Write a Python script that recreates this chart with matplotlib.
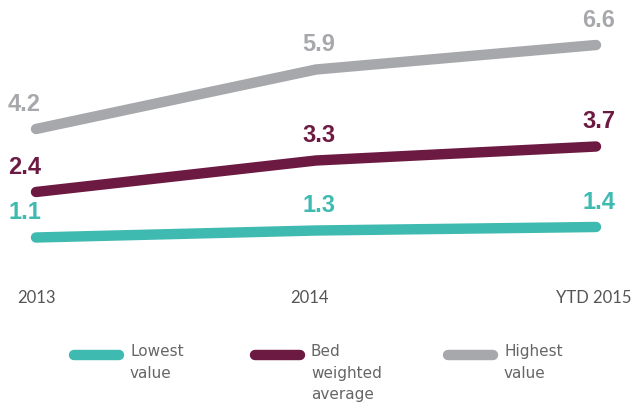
import matplotlib
matplotlib.use("Agg")
import matplotlib.pyplot as plt

# Data
years = ["2013", "2014", "YTD 2015"]
lowest = [1.1, 1.3, 1.4]
bed_weighted = [2.4, 3.3, 3.7]
highest = [4.2, 5.9, 6.6]

series_names = ["Lowest\nvalue", "Bed\nweighted\naverage", "Highest\nvalue"]
colors = ["#3fbab0", "#6d1a43", "#a7a8ac"]

W, H = 638, 408
fig = plt.figure(figsize=(W / 100, H / 100), dpi=100)
ax = fig.add_axes([0, 0, 1, 1])
ax.set_xlim(-36 / 280, (W - 36) / 280)
ax.set_ylim((276 - H) / 35, 276 / 35)
ax.axis("off")

xs = list(range(len(years)))
all_series = [lowest, bed_weighted, highest]
for vals, c in zip(all_series, colors):
    ax.plot(xs, vals, color=c, lw=7.5, solid_capstyle="round", zorder=2)

# value labels
label_font = dict(family="Liberation Sans", fontsize=17, fontweight="bold")
for vals, c in zip(all_series, colors):
    for i, v in enumerate(vals):
        if i == 0:
            ax.annotate(f"{v:.1f}", (-28 / 280, v), xytext=(0, 18),
                        textcoords="offset points", ha="left", va="center",
                        color=c, **label_font)
        else:
            ax.annotate(f"{v:.1f}", (i, v), xytext=(2, 18),
                        textcoords="offset points", ha="center", va="center",
                        color=c, **label_font)

# year labels
year_y = (276 - 298) / 35
year_x = [0, 1 - 7 / 280, 2 - 2 / 280]
for x, lbl in zip(year_x, years):
    ax.text(x, year_y, lbl, ha="center", va="center",
            fontsize=12, color="#555555", family="Lato")

# legend
leg_x = [70, 251, 444]
for lx, name, c in zip(leg_x, series_names, colors):
    fig.add_artist(plt.Line2D([(lx + 4) / W, (lx + 49) / W],
                              [1 - 355 / H, 1 - 355 / H], color=c, lw=7.5,
                              solid_capstyle="round"))
    fig.text((lx + 60) / W, 1 - 344 / H, name, ha="left", va="top",
             fontsize=11, color="#666666", family="Liberation Sans Narrow",
             linespacing=1.55)

fig.savefig("out.png", dpi=100)
